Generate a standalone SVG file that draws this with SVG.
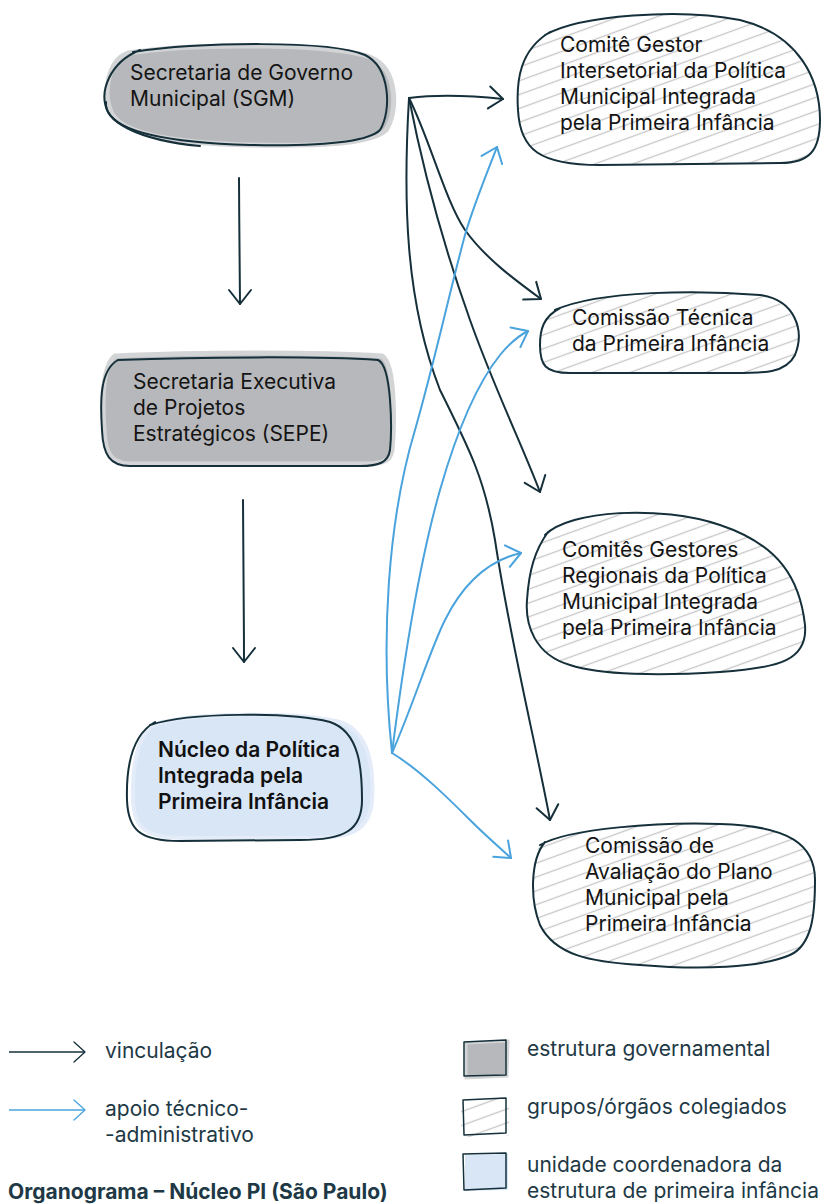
<svg xmlns="http://www.w3.org/2000/svg" width="827" height="1204" viewBox="0 0 827 1204">
<style>
.t{font-family:Inter,"Liberation Sans",sans-serif;font-size:21px;fill:#141414}
.tb{font-family:Inter,"Liberation Sans",sans-serif;font-size:21px;font-weight:600;fill:#111}
.lg{font-family:Inter,"Liberation Sans",sans-serif;font-size:21px;fill:#1e3945}
.ttl{font-family:Inter,"Liberation Sans",sans-serif;font-size:21px;font-weight:700;fill:#1e3945}
.ol{fill:none;stroke:#15303a;stroke-width:2;stroke-linecap:round;stroke-linejoin:round}
.gf{fill:#b7b8bb;stroke:#d3d4d6;stroke-width:5}
.bf{fill:#d9e6f6;stroke:#e3ecf8;stroke-width:4}
.hf{fill:url(#hatch)}
.dk{fill:none;stroke:#15303a;stroke-width:2;stroke-linecap:round}
.bl{fill:none;stroke:#4aa3dd;stroke-width:2;stroke-linecap:round}
</style>
<defs>
<pattern id="hatch" patternUnits="userSpaceOnUse" width="13" height="13" patternTransform="rotate(-20)">
<line x1="0" y1="6.5" x2="13" y2="6.5" stroke="#c6c6c8" stroke-width="1.3"/>
</pattern>
<marker id="ad" markerUnits="userSpaceOnUse" markerWidth="30" markerHeight="30" refX="0" refY="0" viewBox="-20 -15 30 30" orient="auto">
<path d="M-14,-11 L0,0 L-14,11" fill="none" stroke="#15303a" stroke-width="2" stroke-linecap="round" stroke-linejoin="round"/>
</marker>
<marker id="ab" markerUnits="userSpaceOnUse" markerWidth="30" markerHeight="30" refX="0" refY="0" viewBox="-20 -15 30 30" orient="auto">
<path d="M-14,-11 L0,0 L-14,11" fill="none" stroke="#4aa3dd" stroke-width="2" stroke-linecap="round" stroke-linejoin="round"/>
</marker>
<marker id="ld" markerUnits="userSpaceOnUse" markerWidth="30" markerHeight="30" refX="0" refY="0" viewBox="-20 -15 30 30" orient="auto">
<path d="M-11,-10 L0,0 L-11,10" fill="none" stroke="#15303a" stroke-width="1.3" stroke-linecap="round" stroke-linejoin="round"/>
</marker>
<marker id="lb" markerUnits="userSpaceOnUse" markerWidth="30" markerHeight="30" refX="0" refY="0" viewBox="-20 -15 30 30" orient="auto">
<path d="M-11,-10 L0,0 L-11,10" fill="none" stroke="#4aa3dd" stroke-width="1.3" stroke-linecap="round" stroke-linejoin="round"/>
</marker>
</defs>
<rect width="827" height="1204" fill="#ffffff"/>

<g id="connectors">
<path class="dk" d="M239,178 C239,220 240,260 240,304" marker-end="url(#ad)"/>
<path class="dk" d="M243,500 C243,560 244,610 244,662" marker-end="url(#ad)"/>
<path class="dk" d="M409,98 C440,94 475,96 503,99" marker-end="url(#ad)"/>
<path class="dk" d="M409,98 C430,140 445,200 465,230 C485,258 515,280 541,299" marker-end="url(#ad)"/>
<path class="dk" d="M409,98 C425,180 445,250 470,320 C495,390 520,440 540,492" marker-end="url(#ad)"/>
<path class="dk" d="M409,98 C403,200 405,300 440,390 C470,450 485,480 495,540 C510,640 535,740 550,820" marker-end="url(#ad)"/>
<path class="bl" d="M392,753 C380,640 388,520 415,430 C435,360 450,290 465,235 C472,210 482,185 497,147" marker-end="url(#ab)"/>
<path class="bl" d="M392,753 C405,650 420,560 440,490 C460,420 480,380 500,355 C510,343 518,336 528,331" marker-end="url(#ab)"/>
<path class="bl" d="M392,753 C415,700 430,650 445,620 C465,580 490,560 521,553" marker-end="url(#ab)"/>
<path class="bl" d="M392,753 C420,770 450,800 470,820 C485,835 500,848 511,858" marker-end="url(#ab)"/>
</g>

<g id="sgm">
<path class="gf" d="M128,53 C200,42 340,44 372,58 C398,70 398,112 386,130 C370,146 300,146 250,145 C180,143 125,136 112,114 C102,94 108,60 128,53 Z"/>
<path class="ol" d="M133,52 C200,42 330,40 365,55 C390,67 392,110 380,130 C365,145 300,146 250,145 C180,143 120,135 108,112 C98,92 110,62 140,50"/>
<path class="ol" d="M106,102 C104,120 135,140 200,146"/>
<text class="t"><tspan x="130" y="80">Secretaria de Governo</tspan><tspan x="130" y="106">Municipal (SGM)</tspan></text>
</g>

<g id="sepe">
<path class="gf" d="M115,356 C200,352 320,352 382,356 C396,364 394,430 392,450 C390,462 382,464 360,464 L130,464 C110,464 105,452 104,430 C102,400 102,366 115,356 Z"/>
<path class="ol" d="M118,360 C200,357 320,356 378,360 C392,366 392,430 390,450 C388,462 380,466 360,466 L130,466 C110,466 103,455 102,430 C100,400 100,370 118,360"/>
<text class="t"><tspan x="133" y="389">Secretaria Executiva</tspan><tspan x="133" y="415">de Projetos</tspan><tspan x="133" y="441">Estratégicos (SEPE)</tspan></text>
</g>

<g id="nucleo">
<path class="bf" d="M155,724 C195,712 300,712 340,722 C370,732 374,770 372,800 C370,830 352,838 310,838 L185,838 C145,838 134,828 133,800 C132,765 138,733 155,724 Z"/>
<path class="ol" d="M150,725 C190,712 290,712 330,722 C360,732 362,770 362,800 C362,830 345,840 300,840 L180,841 C140,841 128,830 127,800 C126,765 132,735 155,722"/>
<text class="tb"><tspan x="158" y="757">Núcleo da Política</tspan><tspan x="158" y="783">Integrada pela</tspan><tspan x="158" y="809">Primeira Infância</tspan></text>
</g>

<g id="comite-gestor">
<path class="hf" d="M545,35 C580,15 680,8 740,20 C800,35 820,80 820,120 C820,150 810,163 780,163 L600,165 C540,165 520,150 518,110 C516,80 520,50 545,35 Z"/>
<path class="ol" d="M545,35 C580,15 680,8 740,20 C800,35 820,80 820,120 C820,150 810,163 780,163 L600,165 C540,165 520,150 518,110 C516,80 520,50 550,32"/>
<text class="t"><tspan x="560" y="52">Comitê Gestor</tspan><tspan x="560" y="78">Intersetorial da Política</tspan><tspan x="560" y="104">Municipal Integrada</tspan><tspan x="560" y="130">pela Primeira Infância</tspan></text>
</g>

<g id="comissao-tecnica">
<path class="hf" d="M555,310 C600,290 700,290 760,295 C795,300 805,330 795,355 C785,375 760,373 720,373 L570,373 C545,373 540,365 540,345 C540,330 543,317 555,310 Z"/>
<path class="ol" d="M555,310 C600,290 700,290 760,295 C795,300 805,330 795,355 C785,375 760,373 720,373 L570,373 C545,373 540,365 540,345 C540,330 543,317 560,308"/>
<text class="t"><tspan x="572" y="325">Comissão Técnica</tspan><tspan x="572" y="351">da Primeira Infância</tspan></text>
</g>

<g id="comites-regionais">
<path class="hf" d="M545,535 C570,510 660,505 720,525 C780,545 800,580 805,625 C808,660 780,668 720,672 C660,676 600,675 570,665 C535,655 525,625 527,600 C529,570 535,550 545,535 Z"/>
<path class="ol" d="M545,535 C570,510 660,505 720,525 C780,545 800,580 805,625 C808,660 780,668 720,672 C660,676 600,675 570,665 C535,655 525,625 527,600 C529,570 535,550 548,532"/>
<text class="t"><tspan x="562" y="557">Comitês Gestores</tspan><tspan x="562" y="583">Regionais da Política</tspan><tspan x="562" y="609">Municipal Integrada</tspan><tspan x="562" y="635">pela Primeira Infância</tspan></text>
</g>

<g id="comissao-avaliacao">
<path class="hf" d="M540,845 C570,828 660,822 720,824 C790,826 815,845 815,880 C815,915 812,945 790,955 C760,968 700,970 640,965 C590,962 555,955 540,925 C530,900 530,860 540,845 Z"/>
<path class="ol" d="M540,845 C570,828 660,822 720,824 C790,826 815,845 815,880 C815,915 812,945 790,955 C760,968 700,970 640,965 C590,962 555,955 540,925 C530,900 530,860 545,842"/>
<text class="t"><tspan x="585" y="853">Comissão de</tspan><tspan x="585" y="879">Avaliação do Plano</tspan><tspan x="585" y="905">Municipal pela</tspan><tspan x="585" y="931">Primeira Infância</tspan></text>
</g>

<g id="legend">
<path d="M9,1052 L85,1052" fill="none" stroke="#15303a" stroke-width="1.3" marker-end="url(#ld)"/>
<text class="lg" x="105" y="1058">vinculação</text>
<path d="M9,1110 L85,1110" fill="none" stroke="#4aa3dd" stroke-width="1.3" marker-end="url(#lb)"/>
<text class="lg"><tspan x="105" y="1116">apoio técnico-</tspan><tspan x="105" y="1142">-administrativo</tspan></text>

<path d="M466,1043 L508,1041 L507,1076 L466,1078 Z" fill="#b7b8bb" stroke="#d3d4d6" stroke-width="3"/>
<path d="M464,1042 L506,1040 L506,1075 L464,1076 Z" fill="none" stroke="#15303a" stroke-width="1.5" stroke-linejoin="round"/>
<text class="lg" x="527" y="1056">estrutura governamental</text>

<path d="M461,1100 L509,1097 L509,1136 L461,1137 Z" fill="url(#hatch)"/>
<path d="M463,1100 L506,1098 L506,1133 L464,1135 Z" fill="none" stroke="#15303a" stroke-width="1.5" stroke-linejoin="round"/>
<text class="lg" x="527" y="1114">grupos/órgãos colegiados</text>

<path d="M465,1155 L508,1154 L508,1190 L465,1191 Z" fill="#d9e6f6"/>
<path d="M463,1154 L506,1153 L506,1188 L464,1190 Z" fill="none" stroke="#15303a" stroke-width="1.5" stroke-linejoin="round"/>
<text class="lg"><tspan x="527" y="1172">unidade coordenadora da</tspan><tspan x="527" y="1198">estrutura de primeira infância</tspan></text>

<text class="ttl" x="8" y="1199">Organograma – Núcleo PI (São Paulo)</text>
</g>
</svg>
